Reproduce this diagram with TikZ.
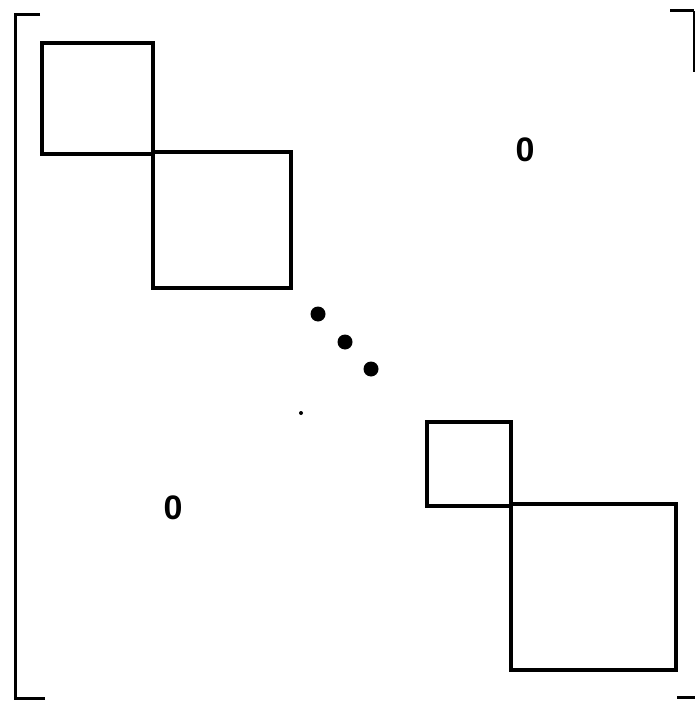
\documentclass[tikz,border=0pt]{standalone}
\usepackage{fontspec}
\setsansfont{Liberation Sans}
\begin{document}
\begin{tikzpicture}[x=1pt,y=-1pt,
  blk/.style={draw=black,line width=3.4pt,line join=miter},
  brk/.style={draw=black,line width=3pt},
  zero/.style={font=\sffamily\bfseries\fontsize{34}{36}\selectfont,inner sep=0pt},
  bigdot/.style={fill=black,draw=none}]
\useasboundingbox (0,0) rectangle (695,703);
% brackets
\draw[brk] (40,15) -- (15,15) -- (15,698) -- (45,698);
\draw[brk] (670,11) -- (694,11);
\draw[draw=black,line width=1.6pt] (694,11) -- (694,72);
\draw[brk] (677,697) -- (695,697);
% blocks
\draw[blk] (42,43) rectangle (153,154);
\draw[blk] (153,152) rectangle (291,288);
\draw[blk] (427,422) rectangle (511,506);
\draw[blk] (511,504) rectangle (676,670);
% dots
\fill[bigdot] (318,314) circle (7.5);
\fill[bigdot] (345,342) circle (7.5);
\fill[bigdot] (371,369) circle (7.5);
\fill[bigdot] (301,413) circle (2);
% zeros
\node[zero] (z1) at (525,150) {0};
\node[zero] (z2) at (173,508) {0};
\end{tikzpicture}
\end{document}
